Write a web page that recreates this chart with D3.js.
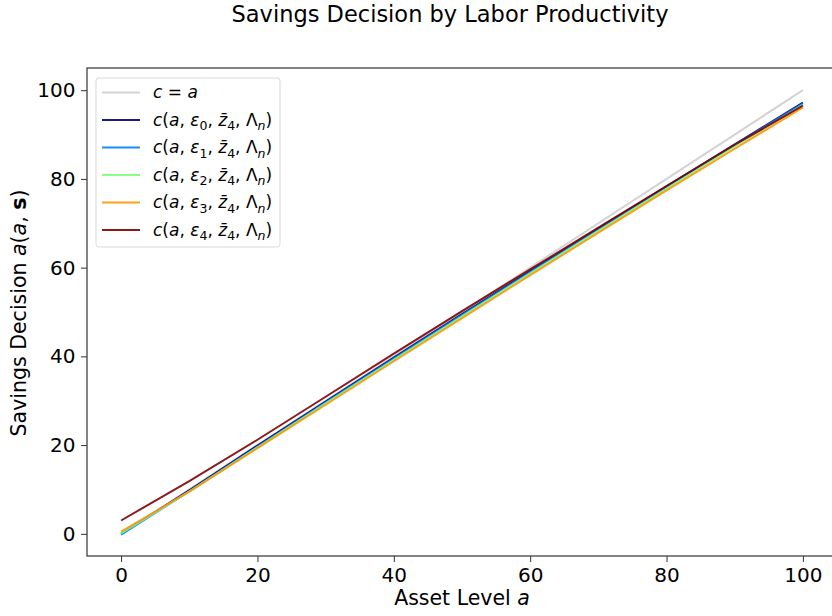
<!DOCTYPE html>
<html>
<head>
<meta charset="utf-8">
<script src="https://cdn.jsdelivr.net/npm/d3@7"></script>
<style>
  body { margin: 0; background: white; }
  text { font-family: "DejaVu Sans", sans-serif; }
</style>
</head>
<body>
<div id="chart"></div>
<script>
// Savings decision data
const assets = [0, 10, 20, 30, 40, 50, 60, 70, 80, 90, 100]
const eps0 = [0.0, 9.8, 19.9, 29.8, 39.7, 49.5, 59.2, 68.8, 78.3, 87.8, 97.2]
const eps1 = [-0.2, 9.6, 19.6, 29.6, 39.5, 49.3, 59.0, 68.6, 78.1, 87.6, 97.0]
const eps2 = [0.1, 9.5, 19.5, 29.4, 39.2, 49.0, 58.7, 68.3, 77.8, 87.3, 96.7]
const eps3 = [0.5, 9.5, 19.3, 29.1, 38.9, 48.6, 58.3, 67.9, 77.4, 86.8, 96.1]
const eps4 = [3.0, 11.9, 21.2, 30.9, 40.6, 50.2, 59.6, 69.0, 78.4, 87.7, 96.5]
const seriesValues = [eps0, eps1, eps2, eps3, eps4]
const seriesIndex = ['0', '1', '2', '3', '4']
const xTicks = [0, 20, 40, 60, 80, 100]
const yTicks = [0, 20, 40, 60, 80, 100]

const colors = ['#000080', '#0080ff', '#7dff7a', '#ff9400', '#800000']

const width = 832, height = 616
const margin = { top: 68, left: 87, right: -5, bottom: 60 }

let svg = d3.select('#chart')
  .append('svg')
  .attr('width', width)
  .attr('height', height)
  .style('background-color', 'white')

let x = d3.scaleLinear().domain([-5, 105]).range([margin.left, 837])
let y = d3.scaleLinear().domain([-5, 105]).range([556, margin.top])

// title
svg.append('text')
  .attr('x', 450)
  .attr('y', 22)
  .attr('text-anchor', 'middle')
  .style('font-size', '22.5px')
  .text('Savings Decision by Labor Productivity')

// axes
svg.append('g')
  .attr('transform', 'translate(0,556)')
  .call(d3.axisBottom(x).tickValues(xTicks).tickSize(6).tickPadding(5.5))
  .call(g => g.select('.domain').remove())
  .call(g => g.selectAll('line').attr('stroke', '#333'))
  .call(g => g.selectAll('text').style('font-size', '20px').attr('fill', '#000').attr('font-family', 'DejaVu Sans'))

svg.append('g')
  .attr('transform', 'translate(' + margin.left + ',0)')
  .call(d3.axisLeft(y).tickValues(yTicks).tickSize(6).tickPadding(5.5))
  .call(g => g.select('.domain').remove())
  .call(g => g.selectAll('line').attr('stroke', '#333'))
  .call(g => g.selectAll('text').style('font-size', '20px').attr('fill', '#000').attr('font-family', 'DejaVu Sans'))

// spines
svg.append('rect')
  .attr('x', margin.left)
  .attr('y', margin.top)
  .attr('width', 837 - margin.left)
  .attr('height', 556 - margin.top)
  .style('fill', 'none')
  .style('stroke', '#333')
  .style('stroke-width', 1.2)

let clip = svg.append('clipPath').attr('id', 'plotclip')
clip.append('rect')
  .attr('x', margin.left).attr('y', margin.top)
  .attr('width', 837 - margin.left).attr('height', 556 - margin.top)

let line = d3.line()
  .x(d => x(d[0]))
  .y(d => y(d[1]))

let plot = svg.append('g').attr('clip-path', 'url(#plotclip)')

// c = a reference line
plot.append('path')
  .datum(assets.map(a => [a, a]))
  .attr('d', line)
  .style('fill', 'none')
  .style('stroke', '#d3d3d3')
  .style('stroke-width', 2)

seriesValues.forEach((vals, i) => {
  plot.append('path')
    .datum(assets.map((a, j) => [a, vals[j]]))
    .attr('d', line)
    .style('fill', 'none')
    .style('stroke', colors[i])
    .style('stroke-opacity', 0.9)
    .style('stroke-width', 2)
})

// x label
let xl = svg.append('text')
  .attr('x', 462)
  .attr('y', 605)
  .attr('text-anchor', 'middle')
  .style('font-size', '20.5px')
xl.append('tspan').text('Asset Level ')
xl.append('tspan').attr('font-style', 'italic').text('a')

// y label
let yl = svg.append('text')
  .attr('transform', 'translate(26,313) rotate(-90)')
  .attr('text-anchor', 'middle')
  .style('font-size', '20.5px')
yl.append('tspan').text('Savings Decision ')
yl.append('tspan').attr('font-style', 'italic').text('a')
yl.append('tspan').text('(')
yl.append('tspan').attr('font-style', 'italic').text('a')
yl.append('tspan').text(', ')
yl.append('tspan').attr('font-weight', 'bold').text('s')
yl.append('tspan').text(')')

// legend
const legend_x = 96
const legend_y = 78
const y_incr = 27.5

svg.append('rect')
  .attr('x', legend_x)
  .attr('y', legend_y)
  .attr('width', 184)
  .attr('height', 169)
  .attr('rx', 3)
  .style('fill', 'white')
  .style('fill-opacity', 0.8)
  .style('stroke', '#d9d9d9')

function mathLabel(t, parts) {
  parts.forEach(p => {
    let s = t.append('tspan').text(p.t)
    if (p.i) s.attr('font-style', 'italic')
    if (p.sub) s.attr('dy', 4.5).style('font-size', '12.5px')
    if (p.up) s.attr('dy', -4.5)
  })
}

// legend: c = a
svg.append('line')
  .attr('x1', legend_x + 6).attr('x2', legend_x + 44)
  .attr('y1', legend_y + 14.5).attr('y2', legend_y + 14.5)
  .style('stroke', '#d3d3d3').style('stroke-width', 2)

let t0 = svg.append('text')
  .attr('x', legend_x + 57)
  .attr('y', legend_y + 14.5)
  .attr('dy', '0.35em')
  .style('font-size', '17px')
mathLabel(t0, [{ t: 'c', i: true }, { t: ' = ' }, { t: 'a', i: true }])

seriesIndex.forEach((k, i) => {
  let cy = legend_y + 14.5 + (i + 1) * y_incr
  svg.append('line')
    .attr('x1', legend_x + 6).attr('x2', legend_x + 44)
    .attr('y1', cy).attr('y2', cy)
    .style('stroke', colors[i]).style('stroke-opacity', 0.9).style('stroke-width', 2)

  let t = svg.append('text')
    .attr('x', legend_x + 57)
    .attr('y', cy)
    .attr('dy', '0.35em')
    .style('font-size', '17px')
  mathLabel(t, [
    { t: 'c', i: true }, { t: '(' }, { t: 'a', i: true }, { t: ', ' },
    { t: 'ε', i: true }, { t: k, sub: true }, { t: ', ', up: true },
    { t: 'z\u0304', i: true }, { t: '4', sub: true }, { t: ', ', up: true },
    { t: 'Λ' }, { t: 'n', i: true, sub: true }, { t: ')', up: true }
  ])
})
</script>
</body>
</html>
